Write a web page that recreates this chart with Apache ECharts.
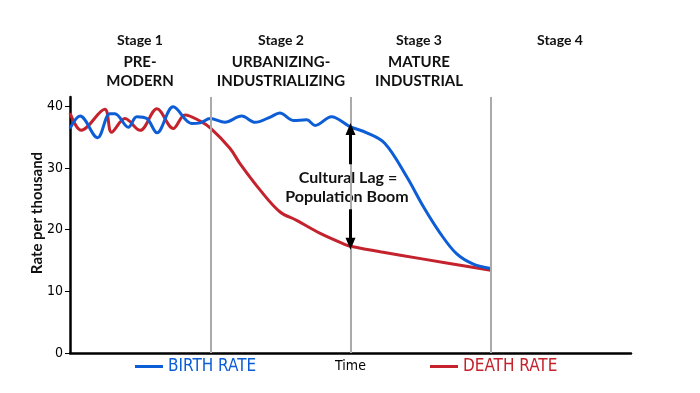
<!DOCTYPE html>
<html>
<head>
<meta charset="utf-8">
<script src="https://cdn.jsdelivr.net/npm/echarts@6/dist/echarts.min.js"></script>
<style>html,body{margin:0;padding:0;background:#fff}#c{width:700px;height:393px}</style>
</head>
<body>
<div id="c"></div>
<script>
// ---- data ----
const birthX = [0, 1.8, 4.9, 7.1, 8.0, 10.4, 11.9, 13.7, 15.5, 18.4, 21.7, 23.2, 25.0, 27.6, 30.6, 33.0, 35.6, 37.4, 39.8, 42.2, 43.7, 46.6, 49.9, 52.9, 56.1, 60.0, 63.0, 66.0, 68.9, 71.9, 75.0];
const birthY = [36.4, 38.4, 34.9, 38.8, 38.8, 36.6, 38.3, 38.0, 35.7, 39.9, 37.2, 37.3, 38.0, 37.4, 38.4, 37.4, 38.2, 38.9, 37.7, 37.8, 36.9, 38.3, 36.7, 35.7, 34.0, 28.6, 23.7, 19.4, 16.1, 14.4, 13.7];
const deathX = [0, 2.0, 6.2, 7.4, 9.8, 12.5, 15.5, 18.4, 20.5, 23.2, 25.0, 28.5, 30.3, 33.9, 37.4, 40.4, 44.6, 49.3, 50.0, 55.3, 62.5, 75.0];
const deathY = [38.9, 36.1, 39.5, 35.8, 38.0, 36.1, 39.6, 36.4, 38.6, 37.6, 36.5, 33.2, 30.7, 26.4, 22.9, 21.5, 19.4, 17.5, 17.3, 16.4, 15.3, 13.4];
const stageDividers = [25, 50, 75];
const yTicks = [0, 10, 20, 30, 40];
const stageNames = ['Stage 1', 'Stage 2', 'Stage 3', 'Stage 4'];
const stageTitles = [['PRE-', 'MODERN'], ['URBANIZING-', 'INDUSTRIALIZING'], ['MATURE', 'INDUSTRIAL'], []];
const lagTop = [30.6, 36.3];
const lagBottom = [23.3, 17.7];
const lagX = 50;

const BLUE = '#0d5ed6';
const RED = '#c4232d';
const NARROW = '"DejaVu Sans Condensed", "Liberation Sans Narrow", "Roboto Condensed", sans-serif';
const zip = (xs, ys) => xs.map((x, i) => [x, ys[i]]);

const stageCx = [140, 281, 419, 560];
const graphics = [];
stageNames.forEach((s, i) => {
  graphics.push({type:'text', x: stageCx[i], y: 40, style:{text:s, font:'bold 14px Lato', fill:'#111', align:'center', verticalAlign:'middle'}});
  stageTitles[i].forEach((t, j) => {
    graphics.push({type:'text', x: stageCx[i], y: 62 + j*19, style:{text:t, font:'bold 15px Lato', fill:'#111', align:'center', verticalAlign:'middle'}});
  });
});
graphics.push({type:'text', x: 348, y: 178, style:{text:'Cultural Lag =', font:'bold 16px Lato', fill:'#111', align:'center', verticalAlign:'middle'}});
graphics.push({type:'text', x: 347, y: 197, style:{text:'Population Boom', font:'bold 16px Lato', fill:'#111', align:'center', verticalAlign:'middle'}});
graphics.push({type:'text', x: 37, y: 213, rotation: Math.PI/2, style:{text:'Rate per thousand', font:'bold 15px Lato', fill:'#111', align:'center', verticalAlign:'middle'}});

const chart = echarts.init(document.getElementById('c'), null, {renderer:'canvas'});
chart.setOption({
  animation: false,
  grid: {left: 70, right: 69, top: 97, bottom: 40},
  xAxis: {
    type: 'value', min: 0, max: 100,
    axisLine: {lineStyle: {color: '#000', width: 2.5}},
    axisTick: {show: false}, axisLabel: {show: false}, splitLine: {show: false},
    name: 'Time', nameLocation: 'middle', nameGap: 6,
    nameTextStyle: {fontFamily: NARROW, fontSize: 14, color: '#000', verticalAlign: 'top'}
  },
  yAxis: {
    type: 'value', min: 0, max: 41.5, interval: 10,
    axisLine: {show: true, lineStyle: {color: '#000', width: 2.5}},
    axisTick: {show: true, length: 5, lineStyle: {color: '#000', width: 1}, customValues: yTicks},
    axisLabel: {customValues: yTicks, fontFamily: NARROW, fontSize: 14, color: '#000', margin: 7},
    splitLine: {show: false}
  },
  legend: [
    {left: 130, top: 353, data: ['BIRTH RATE'], icon: 'rect', itemWidth: 28, itemHeight: 3, itemGap: 6,
     textStyle: {color: BLUE, fontFamily: NARROW, fontSize: 17}},
    {left: 425, top: 353, data: ['DEATH RATE'], icon: 'rect', itemWidth: 28, itemHeight: 3, itemGap: 6,
     textStyle: {color: RED, fontFamily: NARROW, fontSize: 17}}
  ],
  graphic: graphics,
  series: [
    {
      type: 'line', name: 'dividers', data: [], z: 1, silent: true,
      markLine: {silent: true, symbol: 'none', label: {show: false},
        lineStyle: {color: '#aaaaaa', width: 2, type: 'solid'},
        data: stageDividers.map(v => ({xAxis: v}))}
    },
    {
      type: 'line', name: 'BIRTH RATE', data: zip(birthX, birthY), smooth: 0.35, showSymbol: false, symbol: 'none', z: 3,
      lineStyle: {color: BLUE, width: 3}, itemStyle: {color: BLUE}
    },
    {
      type: 'line', name: 'DEATH RATE', data: zip(deathX, deathY), smooth: 0.35, showSymbol: false, symbol: 'none', z: 2,
      lineStyle: {color: RED, width: 3}, itemStyle: {color: RED}
    },
    {
      type: 'line', name: 'lag', data: [], z: 4, silent: true,
      markLine: {silent: true, label: {show: false}, symbol: ['none', 'triangle'], symbolSize: [10, 12],
        lineStyle: {color: '#000', width: 3, type: 'solid'},
        data: [
          [{coord: [lagX, lagTop[0]]}, {coord: [lagX, lagTop[1]]}],
          [{coord: [lagX, lagBottom[0]]}, {coord: [lagX, lagBottom[1]]}]
        ]}
    }
  ]
});
</script>
</body>
</html>
